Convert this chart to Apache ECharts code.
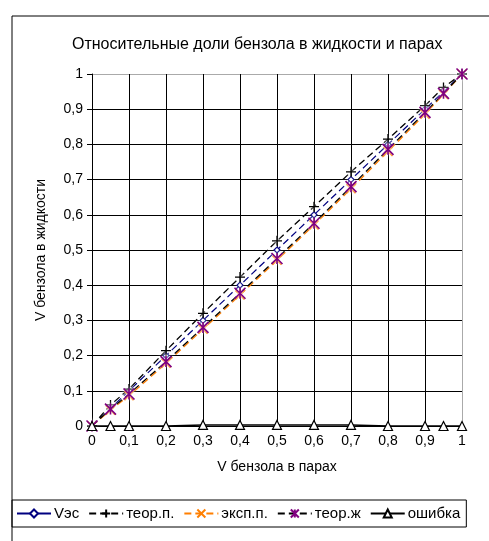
<!DOCTYPE html>
<html>
<head>
    <meta charset="utf-8" />
    <title>Бензол</title>
    <script src="https://cdn.jsdelivr.net/npm/echarts@6/dist/echarts.min.js"></script>
    <style>
        html, body { margin: 0; padding: 0; background: #fff; }
        #main { width: 489px; height: 541px; }
    </style>
</head>
<body>
<div id="main"></div>
<script>
    // данные
    var xVes = [0, 0.1, 0.2, 0.3, 0.4, 0.5, 0.6, 0.7, 0.8, 0.9, 1];
    var yVes = [0, 0.1, 0.2, 0.3, 0.4, 0.5, 0.6, 0.7, 0.8, 0.9, 1];

    var xPts = [0, 0.05, 0.1, 0.2, 0.3, 0.4, 0.5, 0.6, 0.7, 0.8, 0.9, 0.95, 1];
    var teorP = [0, 0.06, 0.105, 0.214, 0.32, 0.423, 0.526, 0.623, 0.722, 0.815, 0.91, 0.962, 1];
    var ekspP = [0, 0.045, 0.086, 0.178, 0.275, 0.372, 0.471, 0.571, 0.674, 0.78, 0.886, 0.942, 1];
    var teorZh = [0, 0.048, 0.091, 0.183, 0.28, 0.377, 0.476, 0.576, 0.68, 0.786, 0.891, 0.945, 1];
    var oshibka = [0, 0, 0, 0, 0.003, 0.003, 0.003, 0.003, 0.003, 0, 0, 0, 0];

    function pairs(xs, ys) {
        var out = [];
        for (var i = 0; i < xs.length; i++) out.push([xs[i], ys[i]]);
        return out;
    }

    function fmt(v) { return String(+v.toFixed(1)).replace('.', ','); }

    var font = 'Liberation Sans, Arial, sans-serif';
    // последняя линия сетки (сверху / справа) серая
    var gridColors = ['#000', '#000', '#000', '#000', '#000', '#000', '#000', '#000', '#000', '#000', '#aaa'];
    var halo = { shadowColor: '#fff', shadowBlur: 4 };

    var chart = echarts.init(document.getElementById('main'));

    var option = {
        animation: false,
        backgroundColor: '#fff',
        title: {
            text: 'Относительные доли бензола в жидкости и парах',
            left: 67,
            top: 32,
            textStyle: { fontFamily: font, fontSize: 16, fontWeight: 'normal', color: '#000' }
        },
        graphic: [{
            type: 'rect',
            shape: { x: 12, y: 16, width: 520, height: 560 },
            style: { fill: 'none', stroke: '#000', lineWidth: 1 },
            silent: true
        }],
        legend: {
            data: [
                { name: 'Vэс', lineStyle: { type: 'solid' } },
                'теор.п.', 'эксп.п.', 'теор.ж',
                'ошибка'
            ],
            left: 12,
            top: 500,
            width: 459,
            height: 27,
            padding: [6, 6, 6, 4],
            itemGap: 9,
            itemWidth: 34,
            itemHeight: 10,
            borderColor: '#000',
            borderWidth: 1,
            textStyle: { fontFamily: font, fontSize: 15, color: '#000', padding: [0, 0, 0, -2] }
        },
        grid: { left: 92, right: 27, top: 74, bottom: 115 },
        xAxis: {
            type: 'value',
            min: 0, max: 1, interval: 0.1,
            name: 'V бензола в парах',
            nameLocation: 'middle',
            nameGap: 34,
            nameTextStyle: { fontFamily: font, fontSize: 14, color: '#000' },
            axisLine: { lineStyle: { color: '#000' } },
            axisTick: { show: true, length: 4, lineStyle: { color: '#000' } },
            axisLabel: { fontFamily: font, fontSize: 14, color: '#000', margin: 8, formatter: fmt },
            splitLine: { show: true, lineStyle: { color: gridColors, width: 1 } }
        },
        yAxis: {
            type: 'value',
            min: 0, max: 1, interval: 0.1,
            name: 'V бензола в жидкости',
            nameLocation: 'middle',
            nameGap: 44,
            nameTextStyle: { fontFamily: font, fontSize: 14, color: '#000' },
            axisLine: { show: true, lineStyle: { color: '#000' } },
            axisTick: { show: true, length: 5, lineStyle: { color: '#000' } },
            axisLabel: { fontFamily: font, fontSize: 14, color: '#000', margin: 9, formatter: fmt },
            splitLine: { show: true, lineStyle: { color: gridColors, width: 1 } }
        },
        series: [
            {
                name: 'Vэс',
                type: 'line',
                data: pairs(xVes, yVes),
                symbol: 'diamond',
                symbolSize: 6,
                lineStyle: { color: '#000080', width: 1.2, type: [7, 4] },
                itemStyle: { color: '#fff', borderColor: '#000080', borderWidth: 1.2 },
                z: 2
            },
            {
                name: 'теор.п.',
                type: 'line',
                data: pairs(xPts, teorP),
                symbol: 'path://M0,5L10,5M5,0L5,10',
                symbolSize: 10,
                lineStyle: { color: '#000', width: 1.3, type: [7, 4] },
                itemStyle: Object.assign({ color: 'rgba(0,0,0,0)', borderColor: '#000', borderWidth: 1.3 }, halo),
                z: 3
            },
            {
                name: 'эксп.п.',
                type: 'line',
                data: pairs(xPts, ekspP),
                symbol: 'path://M0,0L10,10M10,0L0,10',
                symbolSize: 9,
                lineStyle: { color: '#ff7f00', width: 1.3, type: [7, 4] },
                itemStyle: { color: 'rgba(0,0,0,0)', borderColor: '#ff7f00', borderWidth: 1.5 },
                z: 3
            },
            {
                name: 'теор.ж',
                type: 'line',
                data: pairs(xPts, teorZh),
                symbol: 'path://M0,0L10,10M10,0L0,10M5,0L5,10',
                symbolSize: 11,
                lineStyle: { color: '#000', width: 1.3, type: [7, 4] },
                itemStyle: Object.assign({ color: 'rgba(0,0,0,0)', borderColor: '#800080', borderWidth: 1.6 }, halo),
                z: 4
            },
            {
                name: 'ошибка',
                type: 'line',
                data: pairs(xPts, oshibka),
                symbol: 'triangle',
                symbolSize: 9,
                lineStyle: { color: '#000', width: 1.5 },
                itemStyle: { color: '#fff', borderColor: '#000', borderWidth: 1.2 },
                z: 5
            }
        ]
    };

    chart.setOption(option);
</script>
</body>
</html>
